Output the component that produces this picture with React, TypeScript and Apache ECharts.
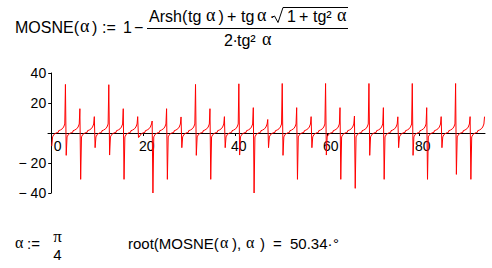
import React, { useEffect, useRef } from "react";
import * as echarts from "echarts";

// x positions of the singularities, last entry = end of the curve
const spikeX = [0, 3.14, 6.28, 9.42, 12.57, 15.71, 18.85, 21.99, 25.13, 28.27, 31.42, 34.56, 37.7, 40.84, 43.98, 47.12, 50.27, 53.41, 56.55, 59.69, 62.83, 65.97, 69.12, 72.26, 75.4, 78.54, 81.68, 84.82, 87.96, 91.11, 94.25];
// value reached just before each singularity (upward spikes)
const spikeTop = [32.4, 16.2, 10.9, 32.2, 16.2, 10.9, 8, 16.2, 10.7, 32.4, 16.2, 10.9, 32.8, 16.9, 9, 33, 16.9, 10.9, 33, 16.9, 11.3, 33, 16.9, 10.8, 33, 16.9, 10.9, 33, 10.9, 10.9];
// value just after each singularity (downward spikes)
const spikeBottom = [-8.7, -14.9, -30.9, -9.8, -14.7, -30.9, -3, -40, -30.9, -9.8, -14.9, -30.9, -9.8, -14.7, -40, -9.8, -14.9, -30.9, -9.8, -14.7, -30.9, -36.9, -14.9, -30.9, -9.8, -14.9, -30.9, -9.8, -27.6, -30.9];
// smooth part between two singularities: offset from the singularity and value
const profileOffset = [0.3, 0.6, 1.0, 1.3, 1.55, 1.6, 2.0, 2.4, 2.7, 2.95];
const profileValue = [-2.6, -0.9, -0.1, 0.3, 0.5, 1.5, 2.0, 2.8, 4.0, 6.0];

const xTicks = [0, 20, 40, 60, 80];
const yTickLabels: Record<string, string> = { "40": "40", "20": "20", "0": "", "-20": "\u2212 20", "-40": "\u2212 40" };

const SANS = '"Liberation Sans", Arial, sans-serif';
const GREEK = '"Liberation Serif", "DejaVu Serif", serif';

function T(x: number, y: number, text: string, opts: any = {}) {
  const fs = opts.size || 16;
  const fam = opts.greek ? GREEK : SANS;
  return {
    type: "text",
    x,
    y,
    silent: true,
    style: {
      text,
      font: `${fs}px ${fam}`,
      fill: "#000",
      textAlign: opts.align || "left",
      textVerticalAlign: "middle",
    },
  };
}
const G = (x: number, y: number, size = 18) => T(x, y, "\u03b1", { greek: true, size });

export default function App() {
  const ref = useRef<HTMLDivElement>(null);
  useEffect(() => {
    if (!ref.current) return;
    const chart = echarts.init(ref.current, null, { renderer: "svg" });

    const data: number[][] = [];
    for (let k = 0; k < spikeBottom.length; k++) {
      const s = spikeX[k];
      data.push([s + 0.12, spikeBottom[k]]);
      for (let i = 0; i < profileOffset.length; i++) {
        data.push([s + profileOffset[i], profileValue[i]]);
      }
      data.push([spikeX[k + 1] - 0.05, spikeTop[k]]);
    }

    const yTop = 16; // numerator centre line
    const yMid = 27; // main line centre
    const yBot = 40; // denominator centre
    const yB = 243; // bottom line centre

    const graphic: any[] = [
      // MOSNE(α) := 1 −
      T(15, yMid, "MOSNE("),
      G(80, yMid - 1),
      T(92, yMid, ")"),
      T(102, yMid, ":="),
      T(123, yMid, "1"),
      T(134, yMid, "\u2212"),
      { type: "line", silent: true, shape: { x1: 147, y1: 28.5, x2: 348, y2: 28.5 }, style: { stroke: "#000", lineWidth: 1 } },
      // numerator
      T(149, yTop, "Arsh("),
      T(188, yTop, "tg"),
      G(206, yTop - 1),
      T(218.5, yTop, ")"),
      T(227, yTop, "+"),
      T(241, yTop, "tg"),
      G(257, yTop - 1),
      T(269.5, yTop, "\u00b7"),
      {
        type: "polyline",
        silent: true,
        shape: { points: [[272.5, 17], [274.5, 16], [278, 22.5], [283, 7.5], [348, 7.5]] },
        style: { stroke: "#000", lineWidth: 1, fill: null },
      },
      T(287, yTop, "1"),
      T(299, yTop, "+"),
      T(313, yTop, "tg\u00b2"),
      G(337, yTop - 1),
      // denominator
      T(224, yBot, "2"),
      T(232.5, yBot, "\u00b7"),
      T(237, yBot, "tg\u00b2"),
      G(262, yBot - 1),
      // bottom line: α := π/4
      G(15, yB - 1, 16),
      T(27, yB, ":=", { size: 15 }),
      T(57.5, 236, "\u03c0", { greek: true, align: "center", size: 17 }),
      T(57.5, 254, "4", { align: "center", size: 15 }),
      // root(MOSNE(α),α) = 50.34·°
      T(128, yB, "root(MOSNE(", { size: 15 }),
      G(220, yB - 1, 16),
      T(232, yB, "),", { size: 15 }),
      G(246, yB - 1, 16),
      T(260, yB, ")", { size: 15 }),
      T(273, yB, "=", { size: 15 }),
      T(290, yB, "50.34", { size: 15 }),
      T(327.5, yB, "\u00b7", { size: 15 }),
      T(333, yB, "\u00b0", { size: 15 }),
    ];

    chart.setOption({
      animation: false,
      backgroundColor: "#fff",
      grid: { left: 48, top: 73, width: 437, height: 120, containLabel: false },
      xAxis: {
        type: "value",
        position: "bottom",
        offset: -60,
        min: -0.7,
        max: 94.3,
        axisLine: { onZero: false, lineStyle: { color: "#000", width: 1 } },
        axisTick: { show: true, customValues: xTicks, length: 3, lineStyle: { color: "#000" } },
        axisLabel: {
          customValues: xTicks,
          margin: 6,
          color: "#000",
          fontFamily: SANS,
          fontSize: 14,
          padding: [0, 0, 0, 7],
          formatter: (v: number) => (v === 0 ? "{z|0}" : String(v)),
          rich: { z: { padding: [0, 0, 0, 6], fontSize: 14, fontFamily: SANS, color: "#000" } },
        },
        splitLine: { show: false },
      },
      yAxis: {
        type: "value",
        position: "left",
        offset: -3.2,
        min: -40,
        max: 40,
        interval: 20,
        axisLine: { show: true, onZero: false, lineStyle: { color: "#000", width: 1 } },
        axisTick: { show: true, length: 3, lineStyle: { color: "#000" } },
        axisLabel: {
          margin: 5,
          color: "#000",
          fontFamily: SANS,
          fontSize: 14,
          formatter: (v: number) => yTickLabels[String(v)] ?? String(v),
        },
        splitLine: { show: false },
      },
      series: [
        {
          type: "line",
          data,
          showSymbol: false,
          symbol: "none",
          lineStyle: { color: "#ff0000", width: 1 },
          clip: true,
        },
      ],
      graphic,
    });
    return () => chart.dispose();
  }, []);
  return <div ref={ref} style={{ width: 492, height: 268, position: "absolute", left: 0, top: 0 }} />;
}
